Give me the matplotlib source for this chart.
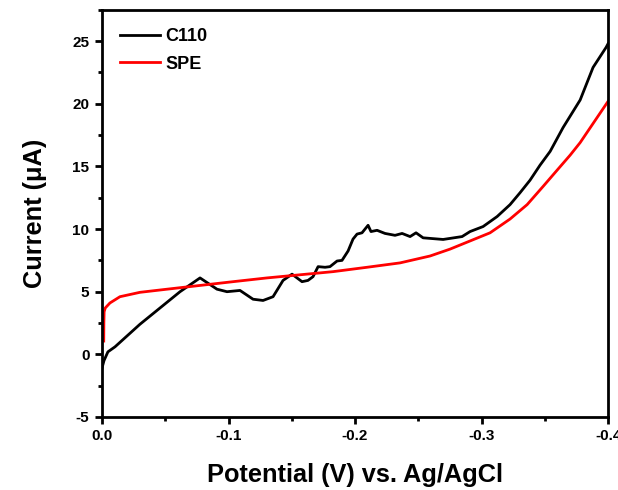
import matplotlib
matplotlib.use("Agg")
import matplotlib.pyplot as plt
from matplotlib.ticker import MultipleLocator, FormatStrFormatter

plt.rcParams['font.family'] = ['Liberation Sans', 'DejaVu Sans']
plt.rcParams['font.weight'] = 'bold'
plt.rcParams['axes.unicode_minus'] = False

# C110 (black) - potential (V), current (uA)
c110_x = [0.0, -0.0016, -0.0047, -0.0103, -0.0300, -0.0617, -0.0775, -0.0909, -0.0988,
          -0.1091, -0.1194, -0.1273, -0.1352, -0.1431, -0.1502, -0.1581, -0.1628, -0.1668,
          -0.1708, -0.1763, -0.1802, -0.1858, -0.1897, -0.1945, -0.1984, -0.2016, -0.2055,
          -0.2079, -0.2103, -0.2126, -0.2174, -0.2237, -0.2316, -0.2372, -0.2435, -0.2482,
          -0.2538, -0.2696, -0.2846, -0.2909, -0.3012, -0.3123, -0.3225, -0.3304, -0.3383,
          -0.3462, -0.3542, -0.3644, -0.3779, -0.3881, -0.3984, -0.4]
c110_y = [-1.1, -0.5, 0.2, 0.6, 2.4, 5.0, 6.1, 5.2, 5.0,
          5.1, 4.4, 4.3, 4.6, 5.9, 6.4, 5.8, 5.9, 6.2,
          7.0, 6.95, 7.0, 7.45, 7.5, 8.25, 9.2, 9.6, 9.7,
          10.0, 10.3, 9.8, 9.9, 9.65, 9.5, 9.65, 9.4, 9.7,
          9.3, 9.17, 9.4, 9.8, 10.2, 11.0, 11.95, 12.9, 13.9,
          15.1, 16.2, 18.1, 20.3, 22.9, 24.5, 24.8]

# SPE (red)
spe_x = [-0.0014, -0.0015, -0.0017, -0.0026, -0.0063, -0.0142, -0.0300, -0.0514, -0.0775,
         -0.1036, -0.1304, -0.1565, -0.1826, -0.2095, -0.2356, -0.2593, -0.2751, -0.2909,
         -0.3067, -0.3225, -0.3360, -0.3486, -0.3597, -0.3700, -0.3779, -0.4]
spe_y = [1.06, 2.5, 3.4, 3.7, 4.1, 4.6, 4.95, 5.2, 5.5,
         5.8, 6.1, 6.35, 6.6, 6.95, 7.3, 7.85, 8.4, 9.05,
         9.7, 10.8, 11.95, 13.4, 14.7, 15.9, 16.9, 20.2]

fig = plt.figure(figsize=(6.18, 4.9), dpi=100)
ax = fig.add_axes([0.165, 0.149, 0.819, 0.831])

ax.plot(c110_x, c110_y, color='black', lw=2, label='C110')
ax.plot(spe_x, spe_y, color='red', lw=2, label='SPE')

ax.set_xlim(0.0, -0.4)
ax.set_ylim(-5, 27.5)
ax.xaxis.set_major_locator(MultipleLocator(0.1))
ax.xaxis.set_minor_locator(MultipleLocator(0.05))
ax.yaxis.set_major_locator(MultipleLocator(5))
ax.yaxis.set_minor_locator(MultipleLocator(2.5))
ax.xaxis.set_major_formatter(FormatStrFormatter('%.1f'))

ax.tick_params(which='major', direction='out', length=5, width=2, labelsize=11, pad=4)
ax.tick_params(which='minor', direction='out', length=3, width=2)
for s in ax.spines.values():
    s.set_linewidth(2)

ax.set_xlabel('Potential (V) vs. Ag/AgCl', fontsize=18.3, fontweight='bold', labelpad=14)
ax.set_ylabel('Current (μA)', fontsize=18.3, fontweight='bold', labelpad=18)

ax.legend(loc='upper left', frameon=False, prop={'weight': 'bold', 'size': 13},
          handlelength=2.2, handletextpad=0.3, borderaxespad=0.6, labelspacing=0.6)

fig.savefig('out.png', dpi=100)
